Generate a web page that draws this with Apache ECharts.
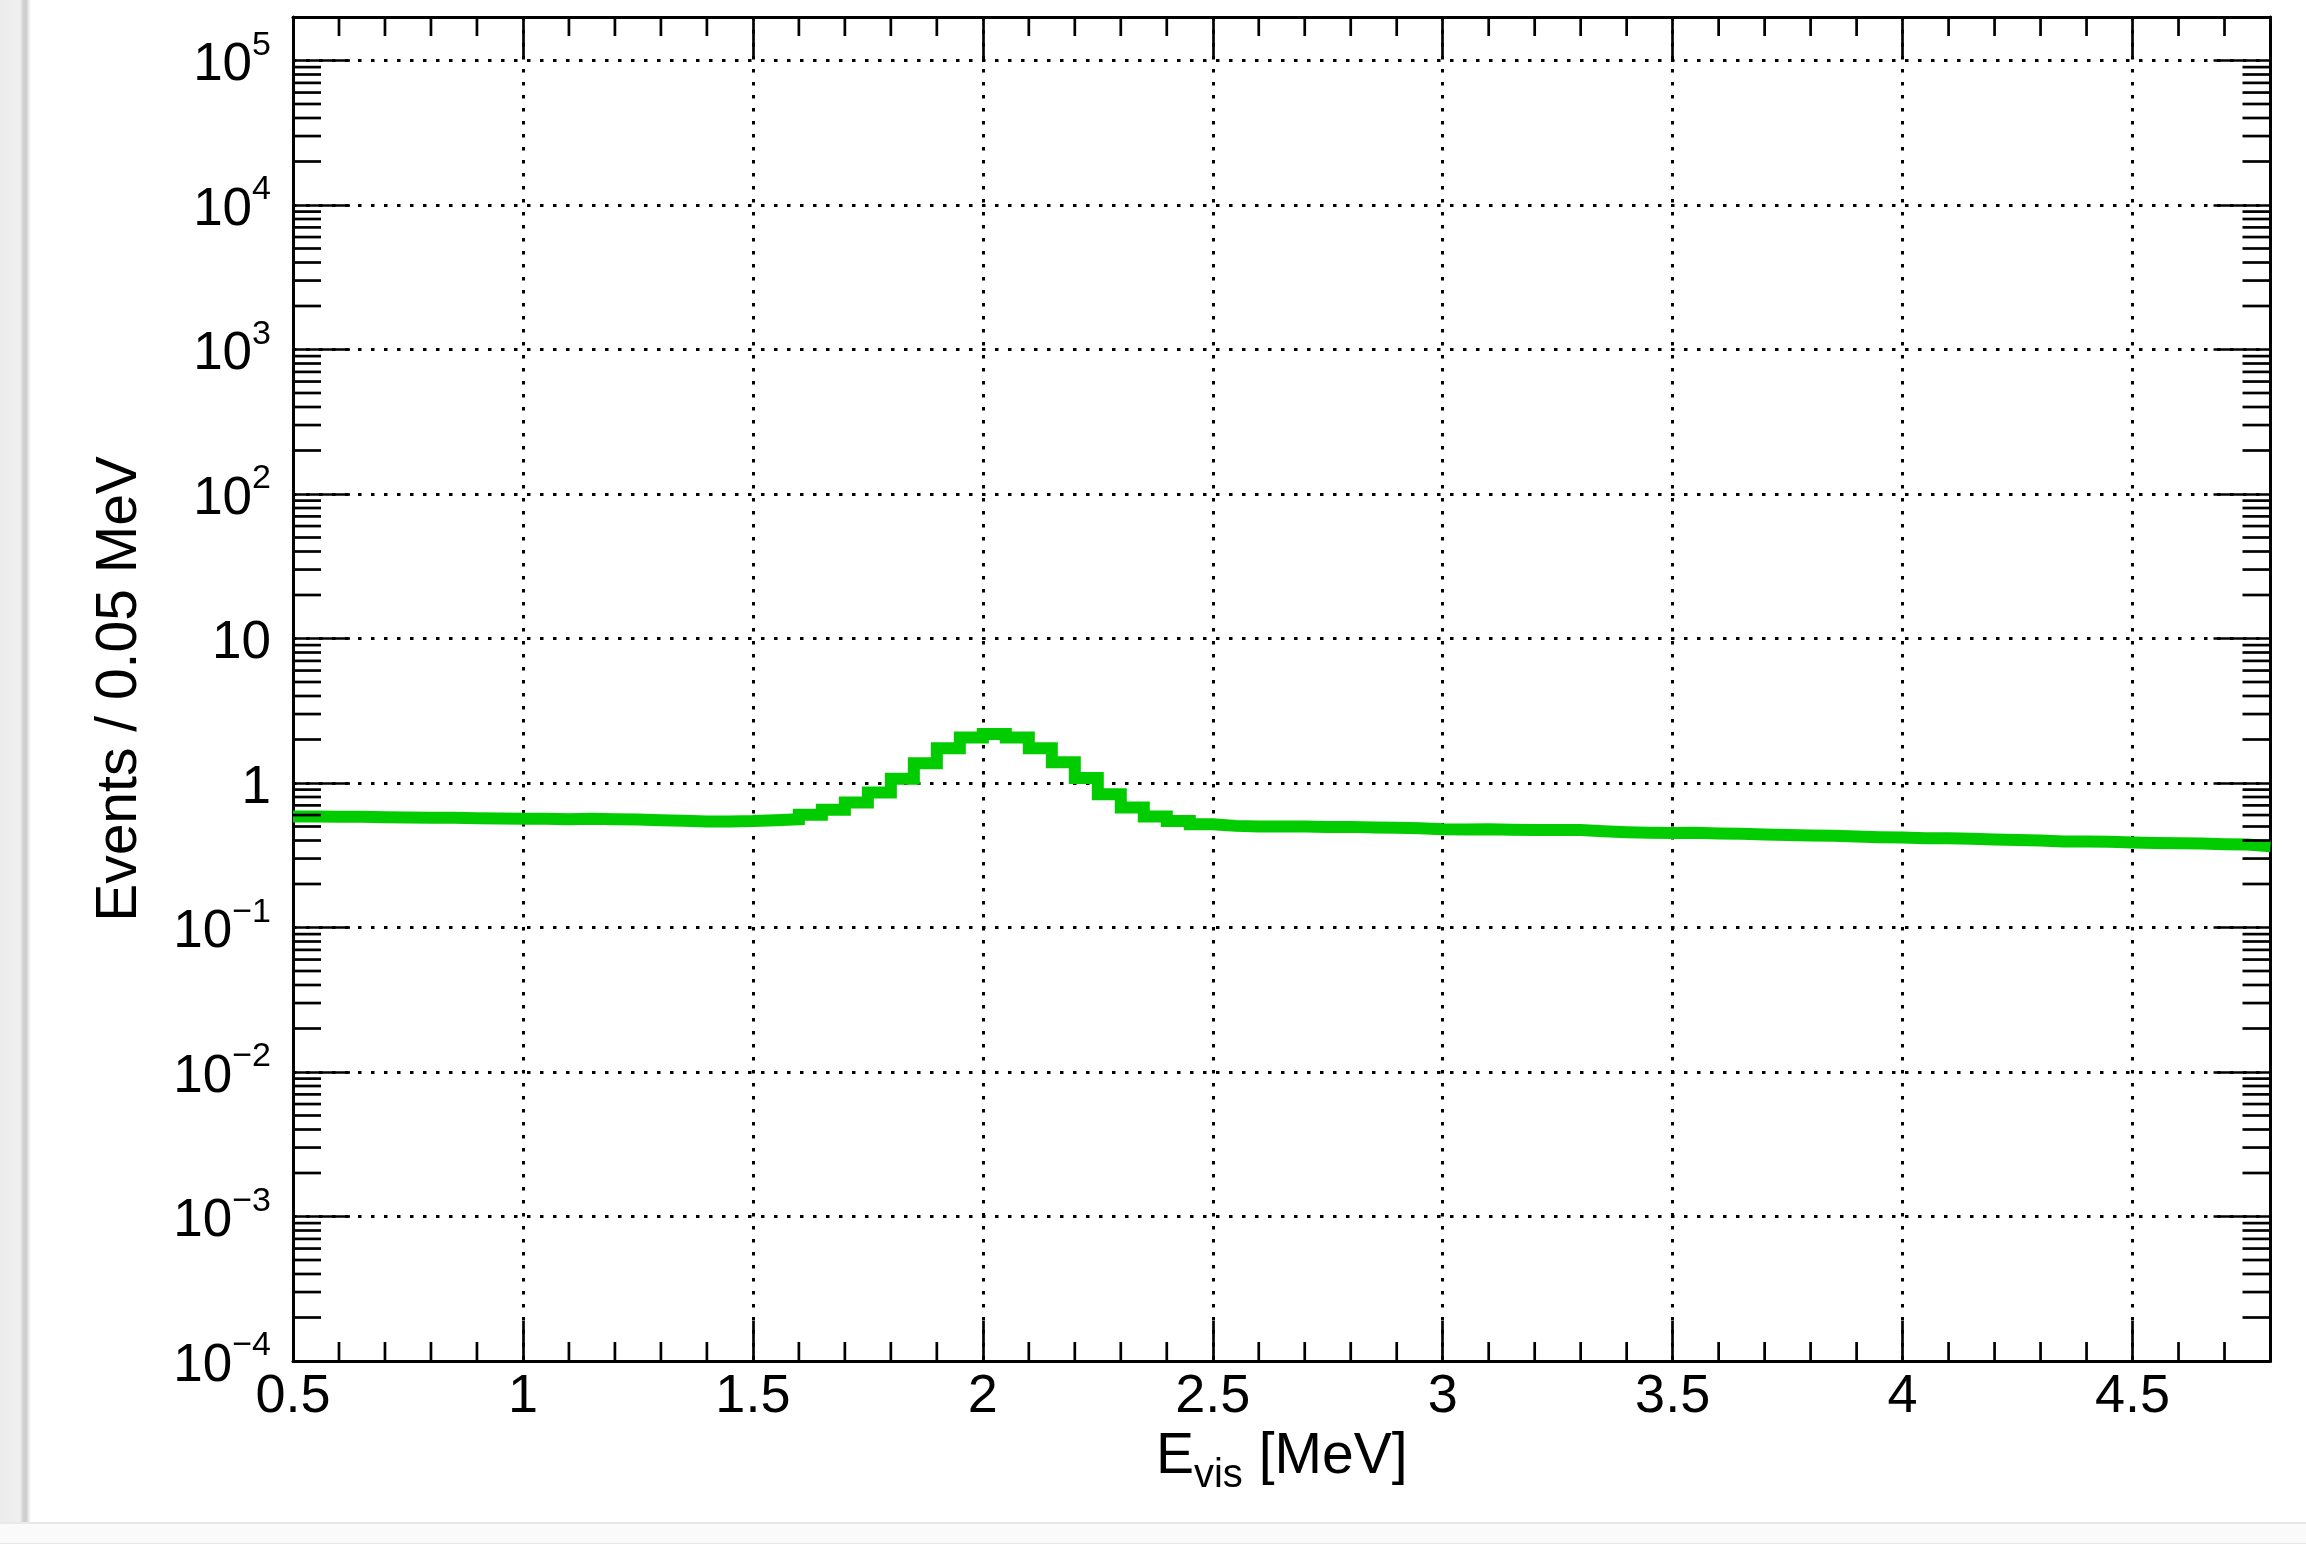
<!DOCTYPE html>
<html><head><meta charset="utf-8">
<script src="https://cdn.jsdelivr.net/npm/echarts@6/dist/echarts.min.js"></script>
<style>
html,body{margin:0;padding:0;background:#fff;width:2306px;height:1544px;overflow:hidden;}
#bgL{position:absolute;left:0;top:0;width:31px;height:1544px;background:linear-gradient(to right,#ececec 0px,#efefef 20px,#d2d2d2 23px,#cccccc 26px,#e3e3e3 28px,#ffffff 31px);}
#bgB{position:absolute;left:0;top:1522px;width:2306px;height:22px;background:#fafafa;border-top:2px solid #e8e8e8;border-bottom:1px solid #e6e6e6;box-sizing:border-box;}
#chart{position:absolute;left:0;top:0;width:2306px;height:1544px;}
</style></head>
<body>
<div id="bgL"></div><div id="bgB"></div><div id="chart"></div>
<script>
// ---- data ----
const binStart = 0.5;      // MeV, lower edge of first bin
const binWidth = 0.05;     // MeV
const xMin = 0.5, xMax = 4.8, xStep = 0.5;
const yMin = 1e-4, yMax = 2e5;
// Events / 0.05 MeV, one value per bin (86 bins, 0.5 - 4.8 MeV)
const counts = [
  0.587, 0.583, 0.583, 0.580, 0.577, 0.574, 0.574, 0.571, 0.568, 0.565,
  0.565, 0.562, 0.565, 0.562, 0.559, 0.553, 0.547, 0.542, 0.542, 0.545,
  0.553, 0.562, 0.602, 0.652, 0.733, 0.860, 1.069, 1.372, 1.743, 2.066,
  2.179, 2.066, 1.743, 1.394, 1.081, 0.837, 0.677, 0.587, 0.545, 0.519,
  0.505, 0.500, 0.499, 0.500, 0.497, 0.497, 0.492, 0.490, 0.487, 0.479,
  0.477, 0.479, 0.474, 0.472, 0.472, 0.472, 0.464, 0.457, 0.452, 0.450,
  0.452, 0.447, 0.445, 0.440, 0.436, 0.433, 0.431, 0.426, 0.422, 0.420,
  0.415, 0.415, 0.411, 0.406, 0.404, 0.400, 0.394, 0.394, 0.392, 0.388,
  0.385, 0.383, 0.381, 0.377, 0.375, 0.365
];
const xTitle = '{a|E}{sub|vis}{a| [MeV]}';
const yTitle = 'Events / 0.05 MeV';

// minor tick positions
const xMinorTicks = [];
for (let i = 6; i <= 47; i++) { if (i % 5 !== 0) xMinorTicks.push(i / 10); }
const yMinorTicks = [];
for (let e = -4; e <= 4; e++) { for (let k = 2; k <= 9; k++) yMinorTicks.push(Number((k * Math.pow(10, e)).toPrecision(3))); }

// ---- build ----
const FONT = 'Liberation Sans';
const histPoints = counts.map((v, i) => [Number((binStart + i * binWidth).toFixed(4)), v]);
histPoints.push([xMax, counts[counts.length - 1]]);

const black = '#000';
const frameLine = { show: true, onZero: false, lineStyle: { color: black, width: 3 } };
const gridLine = { show: true, lineStyle: { color: black, width: 3, type: [3.5, 9.5] } };

function yLabel(v) {
  const e = Math.round(Math.log10(v));
  if (Math.abs(Math.log10(v) - e) > 1e-6) return '';
  if (e === 0) return '{b|1}';
  if (e === 1) return '{b|10}';
  return '{b|10}{s|' + (e < 0 ? '\u2212' + (-e) : e) + '}';
}

const chart = echarts.init(document.getElementById('chart'), null, { renderer: 'canvas' });
chart.setOption({
  animation: false,
  backgroundColor: 'transparent',
  textStyle: { fontFamily: FONT },
  grid: { left: 293, top: 17, width: 1977.5, height: 1344, outerBoundsMode: 'none', containLabel: false },
  xAxis: [{
    type: 'value', position: 'bottom', min: xMin, max: xMax, interval: xStep,
    axisLine: frameLine,
    axisTick: { show: true, inside: true, length: 40, lineStyle: { color: black, width: 2.7 } },
    axisLabel: { show: true, margin: 9, fontSize: 54, lineHeight: 54, color: black, fontFamily: FONT, showMinLabel: true, showMaxLabel: false, hideOverlap: false },
    splitLine: gridLine,
    name: xTitle, nameLocation: 'middle', nameGap: 60,
    nameTextStyle: {
      color: black, fontFamily: FONT,
      rich: {
        a: { fontSize: 57, fontFamily: FONT, color: black, height: 57, lineHeight: 67.5, verticalAlign: 'top' },
        sub: { fontSize: 40, fontFamily: FONT, color: black, height: 40, verticalAlign: 'bottom' }
      }
    }
  }, {
    type: 'value', position: 'top', min: xMin, max: xMax, interval: xStep,
    axisLine: frameLine,
    axisTick: { show: true, inside: true, length: 40, lineStyle: { color: black, width: 2.7 } },
    axisLabel: { show: false }, splitLine: { show: false }
  }],
  yAxis: [{
    type: 'log', logBase: 10, position: 'left', min: yMin, max: yMax,
    axisLine: frameLine,
    axisTick: { show: true, inside: true, length: 57, lineStyle: { color: black, width: 2.7 } },
    axisLabel: {
      show: true, margin: 22, color: black, fontFamily: FONT, formatter: yLabel,
      showMinLabel: true, showMaxLabel: false, hideOverlap: false,
      rich: {
        b: { fontSize: 53, fontFamily: FONT, color: black, height: 50, lineHeight: 60, verticalAlign: 'bottom' },
        s: { fontSize: 34, fontFamily: FONT, color: black, height: 30, verticalAlign: 'top' }
      }
    },
    splitLine: gridLine,
    name: yTitle, nameLocation: 'middle', nameGap: 144, nameRotate: 90,
    nameTextStyle: { fontSize: 57, fontFamily: FONT, color: black }
  }, {
    type: 'log', logBase: 10, position: 'right', min: yMin, max: yMax,
    axisLine: frameLine,
    axisTick: { show: true, inside: true, length: 57, lineStyle: { color: black, width: 2.7 } },
    axisLabel: { show: false }, splitLine: { show: false }
  }],
  series: [{
    type: 'line', name: 'hist', step: 'end', data: histPoints, symbol: 'none',
    xAxisIndex: 0, yAxisIndex: 0, z: 2, clip: true, silent: true,
    lineStyle: { color: '#00cc00', width: 12, cap: 'butt', join: 'miter' }
  }, {
    type: 'custom', name: 'yMinor', xAxisIndex: 0, yAxisIndex: 0, z: 6, silent: true, clip: false,
    data: yMinorTicks.map(v => [xMin, v]),
    renderItem: function (params, api) {
      const cs = params.coordSys;
      const y = api.coord([xMin, api.value(1)])[1];
      const st = { stroke: black, lineWidth: 2.7 };
      return { type: 'group', children: [
        { type: 'line', shape: { x1: cs.x, y1: y, x2: cs.x + 28, y2: y }, style: st },
        { type: 'line', shape: { x1: cs.x + cs.width - 28, y1: y, x2: cs.x + cs.width, y2: y }, style: st }
      ] };
    }
  }, {
    type: 'custom', name: 'xMinor', xAxisIndex: 0, yAxisIndex: 0, z: 6, silent: true, clip: false,
    data: xMinorTicks.map(x => [x, 1]),
    renderItem: function (params, api) {
      const cs = params.coordSys;
      const x = api.coord([api.value(0), 1])[0];
      const st = { stroke: black, lineWidth: 2.7 };
      const yb = cs.y + cs.height;
      return { type: 'group', children: [
        { type: 'line', shape: { x1: x, y1: yb, x2: x, y2: yb - 19 }, style: st },
        { type: 'line', shape: { x1: x, y1: cs.y, x2: x, y2: cs.y + 19 }, style: st }
      ] };
    }
  }]
});
</script>
</body></html>
